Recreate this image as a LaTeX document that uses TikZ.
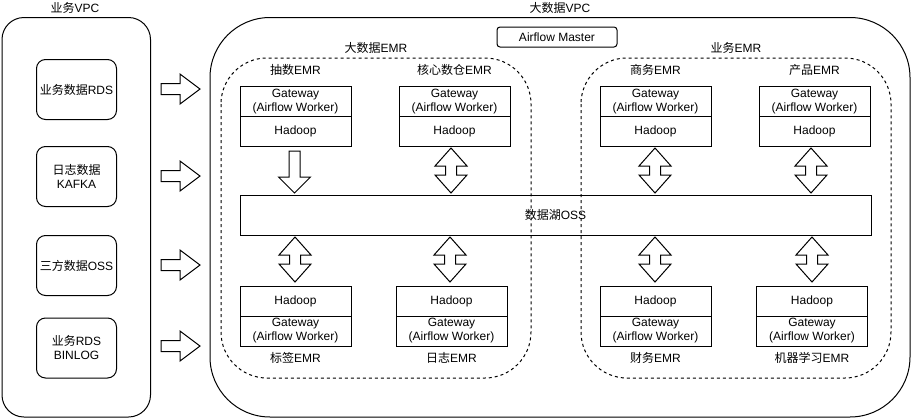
\documentclass[tikz,border=0pt]{standalone}
\usepackage{fontspec}
\setmainfont{Liberation Sans}
\newfontfamily\cjk{Noto Sans CJK SC}
\begin{document}
\begin{tikzpicture}[x=1pt,y=-1pt,
  every node/.style={font=\fontsize{12}{14}\selectfont, inner sep=0pt, align=center},
  lbl/.style={},
  srcbox/.style={draw, line width=1pt, rounded corners=9, minimum width=80, minimum height=60},
  cell/.style={draw, line width=1pt, minimum width=111, minimum height=30},
  zone/.style={draw, line width=1pt, dashed, dash pattern=on 3pt off 3pt, rounded corners=46},
  vpc/.style={draw, line width=1pt},
  blk/.style={draw, line width=1pt, fill=white, line join=miter},
  rarr/.pic={\draw[blk] (0,-5.5) -- (19,-5.5) -- (19,-15) -- (39,0) -- (19,15) -- (19,5.5) -- (0,5.5) -- cycle;},
  dnarr/.pic={\draw[blk] (-5.5,0) -- (-5.5,26) -- (-16,26) -- (0,42) -- (16,26) -- (5.5,26) -- (5.5,0) -- cycle;},
  dblarr/.pic={\draw[blk] (0,-22.5) -- (16,-4.5) -- (5.5,-4.5) -- (5.5,4.5) -- (16,4.5) -- (0,22.5) -- (-16,4.5) -- (-5.5,4.5) -- (-5.5,-4.5) -- (-16,-4.5) -- cycle;}
]
\useasboundingbox (0,0) rectangle (911,418);

% VPC containers
\draw[vpc, rounded corners=22] (2,17.5) rectangle (150.5,417);
\node[lbl] (vpcl) at (75,8) {{\cjk 业务}VPC};
\draw[vpc, rounded corners=60] (210,17.5) rectangle (910,417);
\node[lbl] (vpcr) at (560,8) {{\cjk 大数据}VPC};

% Source boxes
\node[srcbox] (s1) at (76.5,89.5) {{\cjk 业务数据}RDS};
\node[srcbox] (s2) at (76.5,176.5) {{\cjk 日志数据}\\KAFKA};
\node[srcbox] (s3) at (76.5,265.5) {{\cjk 三方数据}OSS};
\node[srcbox] (s4) at (76.5,348) {{\cjk 业务}RDS\\BINLOG};

% right arrows
\pic at (161,89) {rarr};
\pic at (161,176) {rarr};
\pic at (161,265) {rarr};
\pic at (161,346) {rarr};

% Airflow master
\node[draw, line width=1pt, rounded corners=3, minimum width=120, minimum height=20] (am) at (557,37) {Airflow Master};

% Dashed zones
\draw[zone] (221,58) rectangle (531,378);
\node[lbl] (z1) at (376,48) {{\cjk 大数据}EMR};
\draw[zone] (581,58) rectangle (891,378);
\node[lbl] (z2) at (736,48) {{\cjk 业务}EMR};

% Top clusters
\foreach \cx/\nm/\lab in {295.5/a/{\cjk 抽数}EMR, 454.5/b/{\cjk 核心数仓}EMR, 655.5/c/{\cjk 商务}EMR, 814.5/d/{\cjk 产品}EMR}{
  \node[cell] (gw\nm) at (\cx,101.5) {Gateway\\(Airflow Worker)};
  \node[cell] (hd\nm) at (\cx,131.5) {Hadoop};
  \node[lbl] (lb\nm) at (\cx,70) {\lab};
}

% Lake
\node[draw, line width=1pt, minimum width=631, minimum height=40] (oss) at (555.5,215) {{\cjk 数据湖}OSS};

% Bottom clusters
\foreach \cx/\nm/\lab in {295.5/e/{\cjk 标签}EMR, 451.5/f/{\cjk 日志}EMR, 655.5/g/{\cjk 财务}EMR, 812/h/{\cjk 机器学习}EMR}{
  \node[cell] (hd\nm) at (\cx,301) {Hadoop};
  \node[cell] (gw\nm) at (\cx,331) {Gateway\\(Airflow Worker)};
  \node[lbl] (lb\nm) at (\cx,358) {\lab};
}

% Vertical arrows top
\pic at (294.5,151) {dnarr};
\pic at (451,170.5) {dblarr};
\pic at (655,170.5) {dblarr};
\pic at (811,170.5) {dblarr};
% Vertical arrows bottom
\pic at (295,259.5) {dblarr};
\pic at (450,259.5) {dblarr};
\pic at (655,259.5) {dblarr};
\pic at (812,259.5) {dblarr};
\end{tikzpicture}
\end{document}
